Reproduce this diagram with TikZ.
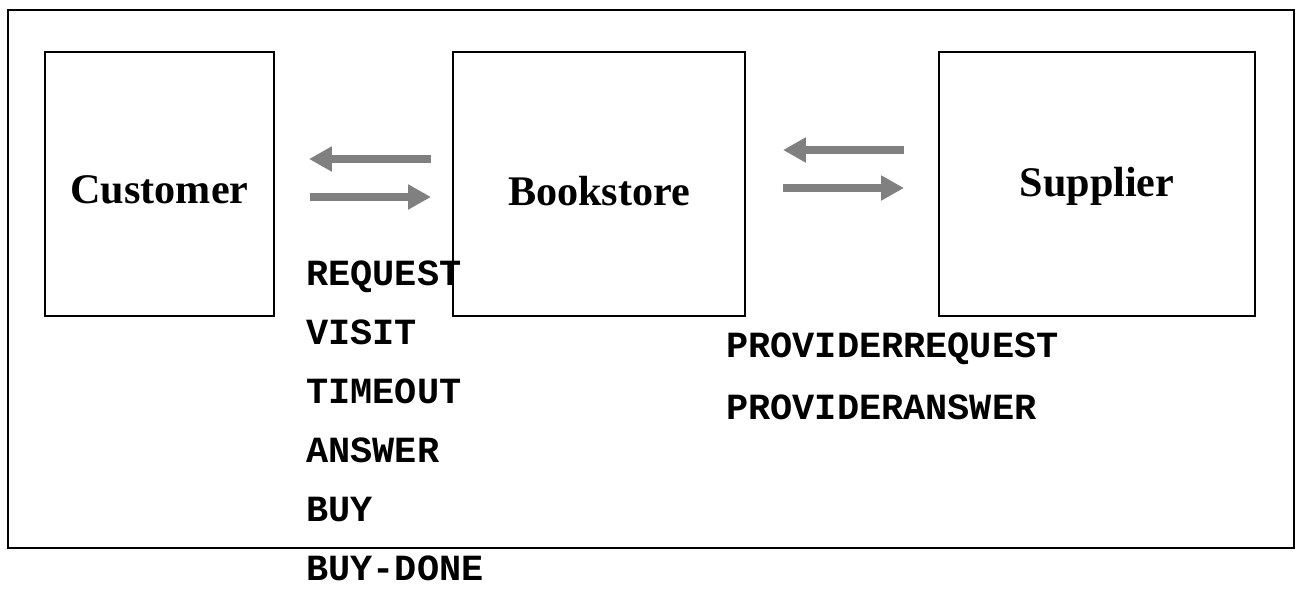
\documentclass[tikz,border=0pt]{standalone}
\usepackage{fontspec}
\setmainfont{Liberation Serif}
\setmonofont{Liberation Mono}
\usetikzlibrary{arrows.meta}
\tikzset{
    box/.style={draw,line width=1.4pt},
    msg/.style={anchor=base west,inner sep=0pt,font=\ttfamily\bfseries\fontsize{21}{21}\selectfont},
    actor/.style={anchor=base,inner sep=0pt,font=\bfseries\fontsize{24}{24}\selectfont},
    flow/.style={draw=black!50,line width=5pt,-{Triangle[length=13pt,width=13.5pt]}}
}
\begin{document}
\begin{tikzpicture}[x=0.02cm,y=-0.02cm]
    \useasboundingbox (0,0) rectangle (1299,589);
    \draw[box] (8,10) rectangle (1294,548);
    \draw[box] (45,52) rectangle (274,316);
    \draw[box] (453,52) rectangle (745,316);
    \draw[box] (939,52) rectangle (1255,316);
    \node[actor](customer) at (159.5,203) {Customer};
    \node[actor](bookstore) at (599,205) {Bookstore};
    \node[actor](supplier) at (1097,196) {Supplier};
    % messages between customer and bookstore
    \coordinate (cb1) at (431,159);
    \coordinate (cb2) at (309,159);
    \coordinate (cb3) at (310,197);
    \coordinate (cb4) at (431,197);
    \draw[flow] (cb1)--(cb2);
    \draw[flow] (cb3)--(cb4);
    % messages between bookstore and supplier
    \coordinate (bs1) at (904,150);
    \coordinate (bs2) at (783,150);
    \coordinate (bs3) at (783,188);
    \coordinate (bs4) at (904,188);
    \draw[flow] (bs1)--(bs2);
    \draw[flow] (bs3)--(bs4);
    \node[msg](request) at (306,285) {REQUEST};
    \node[msg](visit) at (306,344) {VISIT};
    \node[msg](timeout) at (306,403) {TIMEOUT};
    \node[msg](answer) at (306,462) {ANSWER};
    \node[msg](buy) at (306,521) {BUY};
    \node[msg](buydone) at (306,580) {BUY-DONE};
    \node[msg](prequest) at (726,357) {PROVIDERREQUEST};
    \node[msg](panswer) at (726,419) {PROVIDERANSWER};
\end{tikzpicture}
\end{document}
